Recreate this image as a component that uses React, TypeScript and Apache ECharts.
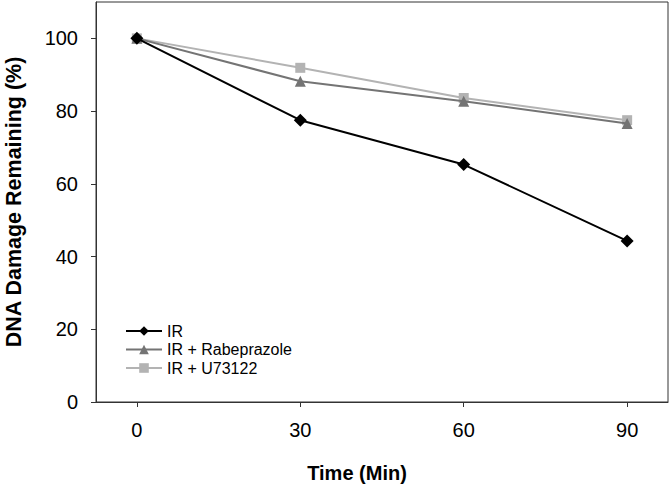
import React, { useEffect, useRef } from "react";
import * as echarts from "echarts";

const times = [0, 30, 60, 90];
const irValues = [100, 77.5, 65.3, 44.3];
const rabeprazoleValues = [100, 88.2, 82.7, 76.6];
const u73122Values = [100, 91.9, 83.6, 77.5];
const xTicks = [0, 30, 60, 90];
const yTicks = [0, 20, 40, 60, 80, 100];

const pair = (vals: number[]) => times.map((t, i) => [t, vals[i]]);

export default function App() {
  const ref = useRef<HTMLDivElement>(null);
  useEffect(() => {
    if (!ref.current) return;
    const chart = echarts.init(ref.current, null, { renderer: "svg" });
    const font = "Liberation Sans, Arial, sans-serif";
    chart.setOption({
      animation: false,
      backgroundColor: "#ffffff",
      grid: {
        left: 96,
        right: 2,
        top: 2,
        bottom: 87,
        show: true,
        borderColor: "#333",
        borderWidth: 1,
        containLabel: false,
        outerBoundsMode: "none",
      },
      legend: {
        orient: "vertical",
        left: 120,
        top: 318,
        itemWidth: 36,
        itemHeight: 12,
        itemGap: 2.5,
        textStyle: { fontFamily: font, fontSize: 16, color: "#000" },
        data: ["IR", "IR + Rabeprazole", "IR + U73122"],
      },
      xAxis: {
        type: "value",
        min: -7.5,
        max: 97.5,
        name: "Time (Min)",
        nameLocation: "middle",
        nameGap: 61,
        nameTextStyle: {
          fontFamily: font,
          fontSize: 20,
          fontWeight: "bold",
          color: "#000",
          padding: [0, 50, 0, 0],
        },
        axisLine: { show: true, onZero: false, lineStyle: { color: "#333", width: 1 } },
        axisTick: { show: true, length: 5, inside: false, customValues: xTicks, lineStyle: { color: "#333" } },
        axisLabel: { customValues: xTicks, fontFamily: font, fontSize: 20, color: "#000", margin: 18 },
        splitLine: { show: false },
      },
      yAxis: {
        type: "value",
        min: 0,
        max: 110,
        name: "DNA Damage Remaining (%)",
        nameLocation: "middle",
        nameGap: 71,
        nameRotate: 90,
        nameTextStyle: { fontFamily: font, fontSize: 21.5, fontWeight: "bold", color: "#000" },
        axisLine: { show: true, onZero: false, lineStyle: { color: "#333", width: 1 } },
        axisTick: { show: true, length: 5, inside: false, customValues: yTicks, lineStyle: { color: "#333" } },
        axisLabel: { customValues: yTicks, fontFamily: font, fontSize: 20, color: "#000", margin: 18 },
        splitLine: { show: false },
      },
      series: [
        {
          name: "IR + U73122",
          type: "line",
          data: pair(u73122Values),
          symbol: "rect",
          symbolSize: 10,
          lineStyle: { color: "#b3b3b3", width: 2 },
          itemStyle: { color: "#b3b3b3" },
          z: 2,
        },
        {
          name: "IR + Rabeprazole",
          type: "line",
          data: pair(rabeprazoleValues),
          symbol: "triangle",
          symbolSize: 11,
          lineStyle: { color: "#747474", width: 2 },
          itemStyle: { color: "#747474" },
          z: 3,
        },
        {
          name: "IR",
          type: "line",
          data: pair(irValues),
          symbol: "diamond",
          symbolSize: 13,
          lineStyle: { color: "#000", width: 2 },
          itemStyle: { color: "#000" },
          z: 4,
        },
      ],
    });
    return () => chart.dispose();
  }, []);
  return (
    <div
      ref={ref}
      style={{ position: "absolute", left: 0, top: 0, width: 670, height: 489 }}
    />
  );
}
